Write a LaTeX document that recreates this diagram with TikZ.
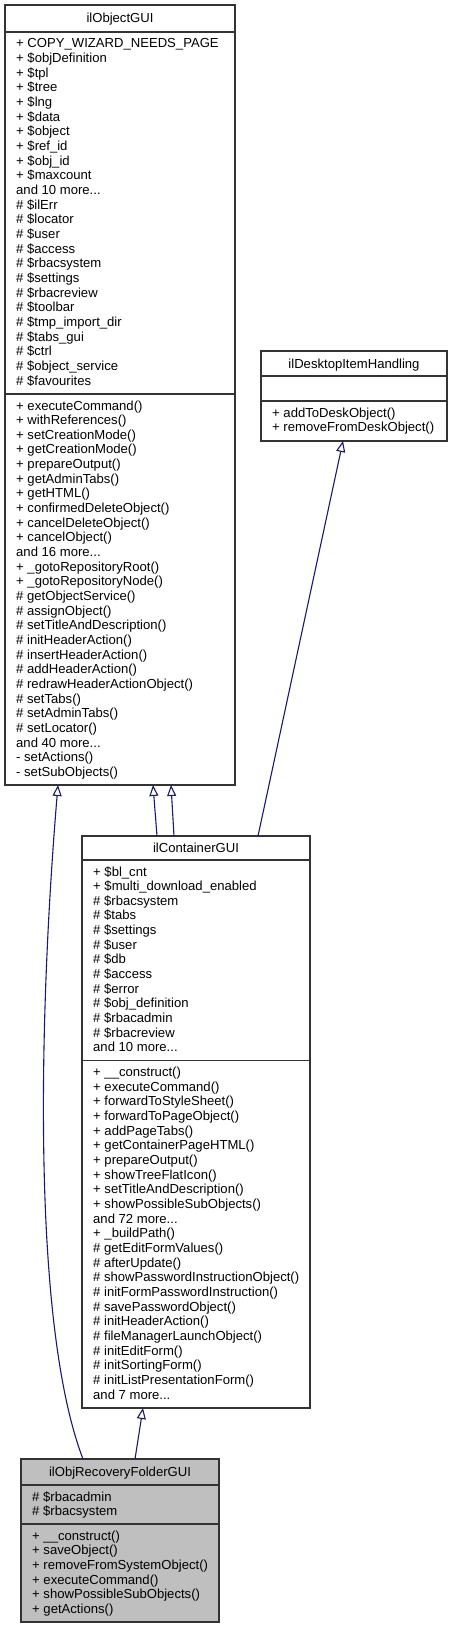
\documentclass[tikz,border=0pt]{standalone}
\usepackage{fontspec}
\setmainfont{Liberation Sans}
\usetikzlibrary{arrows.meta,calc}
\definecolor{edgeblue}{HTML}{191970}
\definecolor{boxgray}{HTML}{BFBFBF}
\newcommand{\tdots}{...}
\begin{document}
\begin{tikzpicture}[x=1pt,y=-1pt,
  cls/.style={draw=black!80, line width=1.2pt, fill=white, inner sep=0pt, outer sep=0pt, anchor=north west},
  sep/.style={draw=black!80, line width=1.2pt},
  ln/.style={font=\fontsize{13.1}{14.66}\selectfont, anchor=base west, inner sep=0pt},
  ttl/.style={font=\fontsize{13.1}{14.66}\selectfont, anchor=base, inner sep=0pt},
  inh/.style={draw=edgeblue, line width=1.1pt, -{Triangle[length=11pt,width=9pt,fill=white]}}]
\useasboundingbox (0,0) rectangle (450,1629);

% ilObjectGUI
\node[cls, minimum width=230pt, minimum height=780pt] (obj) at (5,5) {};
\draw[sep] (5,32) -- (235,32);
\draw[sep] (5,394) -- (235,394);
\node[ttl] (objt) at (120,23) {ilObjectGUI};
\foreach \txt [count=\i from 0] in {%
  {+ COPY\_WIZARD\_NEEDS\_PAGE},{+ \$objDefinition},{+ \$tpl},{+ \$tree},{+ \$lng},
  {+ \$data},{+ \$object},{+ \$ref\_id},{+ \$obj\_id},{+ \$maxcount},{and 10 more\tdots},
  {\# \$ilErr},{\# \$locator},{\# \$user},{\# \$access},{\# \$rbacsystem},{\# \$settings},
  {\# \$rbacreview},{\# \$toolbar},{\# \$tmp\_import\_dir},{\# \$tabs\_gui},{\# \$ctrl},
  {\# \$object\_service},{\# \$favourites}}
  \node[ln] (oa\i) at (16,{48+\i*14.66}) {\txt};
\foreach \txt [count=\i from 0] in {%
  {+ executeCommand()},{+ withReferences()},{+ setCreationMode()},{+ getCreationMode()},
  {+ prepareOutput()},{+ getAdminTabs()},{+ getHTML()},{+ confirmedDeleteObject()},
  {+ cancelDeleteObject()},{+ cancelObject()},{and 16 more\tdots},{+ \_gotoRepositoryRoot()},
  {+ \_gotoRepositoryNode()},{\# getObjectService()},{\# assignObject()},
  {\# setTitleAndDescription()},{\# initHeaderAction()},{\# insertHeaderAction()},
  {\# addHeaderAction()},{\# redrawHeaderActionObject()},{\# setTabs()},{\# setAdminTabs()},
  {\# setLocator()},{and 40 more\tdots},{- setActions()},{- setSubObjects()}}
  \node[ln] (om\i) at (16,{410+\i*14.66}) {\txt};

% ilDesktopItemHandling
\node[cls, minimum width=186pt, minimum height=90pt] (desk) at (261,351) {};
\draw[sep] (261,376) -- (447,376);
\draw[sep] (261,401) -- (447,401);
\node[ttl] (deskt) at (354,368) {ilDesktopItemHandling};
\node[ln] (dm0) at (272,417) {+ addToDeskObject()};
\node[ln] (dm1) at (272,431.66) {+ removeFromDeskObject()};

% ilContainerGUI
\node[cls, minimum width=228pt, minimum height=572pt] (cont) at (82,836) {};
\draw[sep] (82,860) -- (310,860);
\draw[sep] (82,1060.5) -- (310,1060.5);
\node[ttl] (contt) at (196,852.5) {ilContainerGUI};
\foreach \txt [count=\i from 0] in {%
  {+ \$bl\_cnt},{+ \$multi\_download\_enabled},{\# \$rbacsystem},{\# \$tabs},{\# \$settings},
  {\# \$user},{\# \$db},{\# \$access},{\# \$error},{\# \$obj\_definition},{\# \$rbacadmin},
  {\# \$rbacreview},{and 10 more\tdots}}
  \node[ln] (ca\i) at (93,{876+\i*14.66}) {\txt};
\foreach \txt [count=\i from 0] in {%
  {+ \_\_construct()},{+ executeCommand()},{+ forwardToStyleSheet()},{+ forwardToPageObject()},
  {+ addPageTabs()},{+ getContainerPageHTML()},{+ prepareOutput()},{+ showTreeFlatIcon()},
  {+ setTitleAndDescription()},{+ showPossibleSubObjects()},{and 72 more\tdots},{+ \_buildPath()},
  {\# getEditFormValues()},{\# afterUpdate()},{\# showPasswordInstructionObject()},
  {\# initFormPasswordInstruction()},{\# savePasswordObject()},{\# initHeaderAction()},
  {\# fileManagerLaunchObject()},{\# initEditForm()},{\# initSortingForm()},
  {\# initListPresentationForm()},{and 7 more\tdots}}
  \node[ln] (cm\i) at (93,{1076.5+\i*14.66}) {\txt};

% ilObjRecoveryFolderGUI
\node[cls, fill=boxgray, minimum width=198pt, minimum height=163pt] (rec) at (21,1459) {};
\draw[sep] (21,1485) -- (219,1485);
\draw[sep] (21,1524) -- (219,1524);
\node[ttl] (rect) at (120,1476.5) {ilObjRecoveryFolderGUI};
\node[ln] (ra0) at (32,1501) {\# \$rbacadmin};
\node[ln] (ra1) at (32,1515.66) {\# \$rbacsystem};
\foreach \txt [count=\i from 0] in {%
  {+ \_\_construct()},{+ saveObject()},{+ removeFromSystemObject()},{+ executeCommand()},
  {+ showPossibleSubObjects()},{+ getActions()}}
  \node[ln] (rm\i) at (32,{1540+\i*14.66}) {\txt};

% inheritance edges
\draw[inh] ($(rec.north west)+(62,0)$) .. controls (30,1320) and (40,1000) .. ($(obj.south west)+(53,0)$);
\draw[inh] ($(cont.north west)+(75,0)$) -- ($(obj.south west)+(148,0)$);
\draw[inh] ($(cont.north west)+(92,0)$) -- ($(obj.south west)+(166,0)$);
\draw[inh] ($(cont.north west)+(176,0)$) -- ($(desk.south west)+(82,0)$);
\draw[inh] ($(rec.north west)+(114,0)$) -- ($(cont.south west)+(61,0)$);
\end{tikzpicture}
\end{document}
